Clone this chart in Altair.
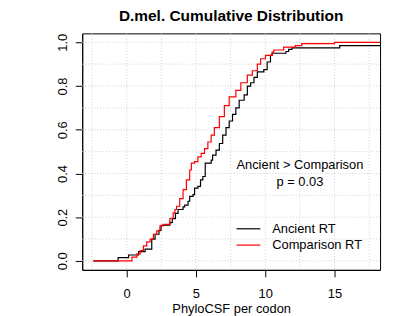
import altair as alt
import pandas as pd

# ---- data (ECDF step points) ----
ancient_x = [-2.41, -0.62, 0.14, 0.86, 1.33, 1.81, 2.05, 2.33, 2.48, 3.12, 3.29, 3.52, 3.71,
             4.07, 4.19, 4.43, 4.55, 4.79, 4.9, 5.14, 5.33, 5.5, 5.67, 6.1, 6.2, 6.45, 6.69,
             6.93, 7.17, 7.4, 7.64, 7.88, 8.12, 8.48, 8.71, 8.95, 9.19, 9.43, 9.9, 10.14,
             10.38, 10.5, 11.5, 11.69, 11.93, 15.38, 18.3]
ancient_y = [0, 0.015, 0.027, 0.042, 0.054, 0.10, 0.122, 0.14, 0.163, 0.175, 0.193, 0.217,
             0.235, 0.247, 0.255, 0.273, 0.295, 0.303, 0.333, 0.341, 0.371, 0.386, 0.447,
             0.461, 0.484, 0.507, 0.537, 0.575, 0.61, 0.64, 0.67, 0.70, 0.735, 0.76, 0.80,
             0.815, 0.84, 0.865, 0.875, 0.91, 0.94, 0.95, 0.958, 0.968, 0.975, 0.985, 0.985]

comparison_x = [-2.41, 0.38, 0.74, 0.98, 1.21, 1.45, 1.69, 1.93, 2.17, 2.4, 2.64, 3.12, 3.36,
                3.48, 3.6, 3.83, 4.07, 4.31, 4.55, 4.67, 4.9, 5.14, 5.38, 5.62, 5.86, 6.1,
                6.33, 6.69, 7.05, 7.4, 7.88, 8.24, 8.71, 9.07, 9.43, 9.67, 10.02, 10.5,
                10.62, 11.33, 12.17, 12.64, 15.0, 18.3]
comparison_y = [0, 0.017, 0.032, 0.047, 0.069, 0.087, 0.1, 0.122, 0.137, 0.16, 0.167, 0.195,
                0.22, 0.235, 0.25, 0.285, 0.326, 0.371, 0.416, 0.447, 0.454, 0.476, 0.492,
                0.514, 0.544, 0.575, 0.61, 0.66, 0.71, 0.75, 0.78, 0.815, 0.85, 0.87, 0.9,
                0.925, 0.94, 0.955, 0.965, 0.978, 0.985, 0.994, 1.0, 1.0]

series_names = ["Ancient RT", "Comparison RT"]
series_colors = ["black", "#FF0000"]

x_ticks = [0, 5, 10, 15]
y_ticks = [0.0, 0.2, 0.4, 0.6, 0.8, 1.0]
grid_x = [-2.5, 0, 2.5, 5, 7.5, 10, 12.5, 15, 17.5]
grid_y = [0.0, 0.1, 0.2, 0.3, 0.4, 0.5, 0.6, 0.7, 0.8, 0.9, 1.0]

title_text = "D.mel. Cumulative Distribution"
x_title = "PhyloCSF per codon"
annot_lines = ["Ancient > Comparison", "p = 0.03"]

FONT = "Liberation Sans"

# ---- build tables ----
df = pd.concat([
    pd.DataFrame({"x": ancient_x, "y": ancient_y, "series": series_names[0],
                  "idx": range(len(ancient_x))}),
    pd.DataFrame({"x": comparison_x, "y": comparison_y, "series": series_names[1],
                  "idx": range(len(comparison_x))}),
], ignore_index=True)

xs = alt.Scale(domain=[-3.21, 18.29], nice=False, zero=False)
ys = alt.Scale(domain=[-0.041, 1.041], nice=False, zero=False)

x_axis = alt.Axis(values=x_ticks, title=x_title, grid=False, tickSize=7,
                  labelPadding=11, titlePadding=2, format="d")
y_axis = alt.Axis(values=y_ticks, title=None, grid=False, tickSize=7, format=".1f",
                  labelAngle=270, labelAlign="center", labelBaseline="bottom",
                  labelPadding=6)

W, H = 301, 239

grid_v = alt.Chart(pd.DataFrame({"g": grid_x})).mark_rule(
    color="#cfcfcf", strokeDash=[1, 2], strokeWidth=1
).encode(x=alt.X("g:Q", scale=xs, axis=x_axis))

grid_h = alt.Chart(pd.DataFrame({"g": grid_y})).mark_rule(
    color="#cfcfcf", strokeDash=[1, 2], strokeWidth=1
).encode(y=alt.Y("g:Q", scale=ys, axis=y_axis))

lines = alt.Chart(df).mark_line(
    interpolate="step-after", strokeWidth=1.2, clip=True
).encode(
    x=alt.X("x:Q", scale=xs, axis=x_axis),
    y=alt.Y("y:Q", scale=ys, axis=y_axis),
    color=alt.Color("series:N",
                    scale=alt.Scale(domain=series_names, range=series_colors),
                    legend=None),
    order=alt.Order("idx:Q"),
)

one = pd.DataFrame({"a": [0]})

leg_rules = []
leg_texts = []
leg_y = [197.5, 214]
for name, col, yy in zip(series_names, series_colors, leg_y):
    leg_rules.append(alt.Chart(one).mark_rule(color=col, strokeWidth=1.2).encode(
        x=alt.value(156), x2=alt.value(180), y=alt.value(yy)))
    leg_texts.append(alt.Chart(pd.DataFrame({"t": [name]})).mark_text(
        align="left", baseline="middle", font=FONT, fontSize=13, color="black"
    ).encode(x=alt.value(192), y=alt.value(yy), text="t:N"))

annot = []
for txt, yy in zip(annot_lines, [133, 150]):
    annot.append(alt.Chart(pd.DataFrame({"t": [txt]})).mark_text(
        align="center", baseline="middle", font=FONT, fontSize=13, color="black"
    ).encode(x=alt.value(220), y=alt.value(yy), text="t:N"))

chart = alt.layer(grid_v, grid_h, lines, *leg_rules, *leg_texts, *annot).properties(
    width=W, height=H,
    title=alt.TitleParams(title_text, font=FONT, fontSize=15.6, fontWeight="bold",
                          color="black", anchor="middle", offset=8),
    autosize=alt.AutoSizeParams(type="none"),
    padding={"left": 75, "top": 24, "right": 5, "bottom": 45},
).configure_view(
    stroke="black", strokeWidth=1
).configure_axis(
    labelFont=FONT, titleFont=FONT, labelFontSize=13, titleFontSize=13,
    labelColor="black", titleColor="black", titleFontWeight="normal",
    domainColor="black", tickColor="black", domainWidth=1, tickWidth=1,
)

chart.save("out.html", embed_options={"renderer": "svg", "actions": False})
